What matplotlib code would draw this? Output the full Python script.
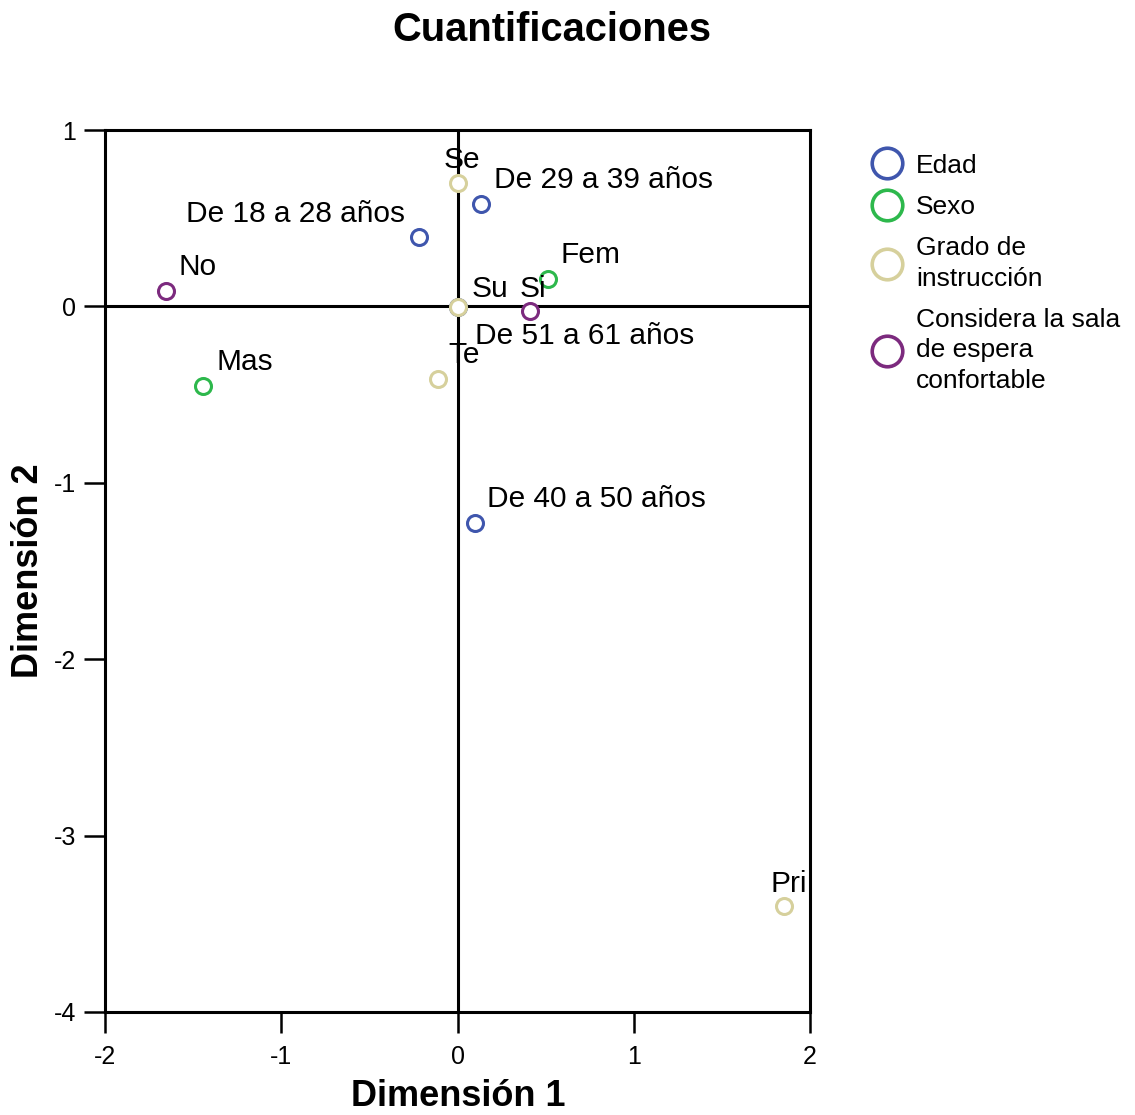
import matplotlib.pyplot as plt
from matplotlib.lines import Line2D

plt.rcParams['font.family'] = ['Liberation Sans', 'DejaVu Sans']
plt.rcParams['axes.unicode_minus'] = False

# category points (Dimension 1, Dimension 2) per variable
edad_labels = ["De 18 a 28 años", "De 29 a 39 años", "De 40 a 50 años", "De 51 a 61 años"]
edad_x = [-0.218, 0.133, 0.099, 0.0]
edad_y = [0.391, 0.578, -1.230, -0.005]

sexo_labels = ["Mas", "Fem"]
sexo_x = [-1.444, 0.513]
sexo_y = [-0.454, 0.153]

grado_labels = ["Pri", "Se", "Su", "Te"]
grado_x = [1.852, 0.0, 0.0, -0.111]
grado_y = [-3.401, 0.697, -0.006, -0.414]

conf_labels = ["Si", "No"]
conf_x = [0.411, -1.654]
conf_y = [-0.028, 0.085]

groups = ["Edad", "Sexo", "Grado de\ninstrucción", "Considera la sala\nde espera\nconfortable"]
colors = ["#3f56ad", "#2db84c", "#d6d09c", "#7c2a7e"]

# label offsets in pixels (dx, dy, ha)
label_offsets = {
    "De 18 a 28 años": (-14, 15, "right"),
    "De 29 a 39 años": (13, 16, "left"),
    "De 40 a 50 años": (12, 16, "left"),
    "De 51 a 61 años": (17, -37, "left"),
    "Mas": (14, 16, "left"),
    "Fem": (13, 16, "left"),
    "Pri": (-13, 14, "left"),
    "Se": (-14, 15, "left"),
    "Su": (14, 10, "left"),
    "Te": (10, 16, "left"),
    "Si": (-10, 14, "left"),
    "No": (13, 16, "left"),
}

fig = plt.figure(figsize=(11.35, 11.15), dpi=100)
ax = fig.add_axes([0.0925, 0.0924, 0.6212, 0.791])

ax.axhline(0, color="black", lw=2.2, zorder=1)
ax.axvline(0, color="black", lw=2.2, zorder=1)

series = [
    (edad_labels, edad_x, edad_y),
    (sexo_labels, sexo_x, sexo_y),
    (grado_labels, grado_x, grado_y),
    (conf_labels, conf_x, conf_y),
]
for (labels, xs, ys), c in zip(series, colors):
    ax.plot(xs, ys, "o", ms=11.5, mfc="white", mec=c, mew=2.2, zorder=3, linestyle="none")
    for lab, x, y in zip(labels, xs, ys):
        dx, dy, ha = label_offsets[lab]
        ax.annotate(lab, (x, y), xytext=(dx, dy), textcoords="offset pixels",
                    ha=ha, va="baseline", fontsize=21.5, zorder=4)

ax.set_xlim(-2, 2)
ax.set_ylim(-4, 1)
ax.set_xticks([-2, -1, 0, 1, 2])
ax.set_yticks([-4, -3, -2, -1, 0, 1])
for s in ax.spines.values():
    s.set_linewidth(2.2)
ax.tick_params(direction="out", length=15, width=1.8, labelsize=18)
ax.tick_params(axis="x", pad=9)
ax.tick_params(axis="y", pad=6)

ax.set_xlabel("Dimensión 1", fontsize=26, fontweight="bold", va="center")
ax.set_ylabel("Dimensión 2", fontsize=26, fontweight="bold", va="center")
ax.xaxis.set_label_coords(0.501, -0.096)
ax.yaxis.set_label_coords(-0.109, 0.5)
fig.text(0.486, 0.973, "Cuantificaciones", ha="center", va="center",
         fontsize=28.7, fontweight="bold")

handles = [Line2D([], [], marker="o", ls="none", ms=22, mfc="white", mec=c, mew=2.6)
           for c in colors]
leg = fig.legend(handles, groups, loc="upper left", bbox_to_anchor=(0.755, 0.8716),
                 frameon=False, fontsize=19, handletextpad=0.33, labelspacing=0.65,
                 borderaxespad=0, handlelength=1.5)
for t in leg.get_texts():
    t.set_linespacing(1.35)

fig.savefig("out.png", dpi=100)
